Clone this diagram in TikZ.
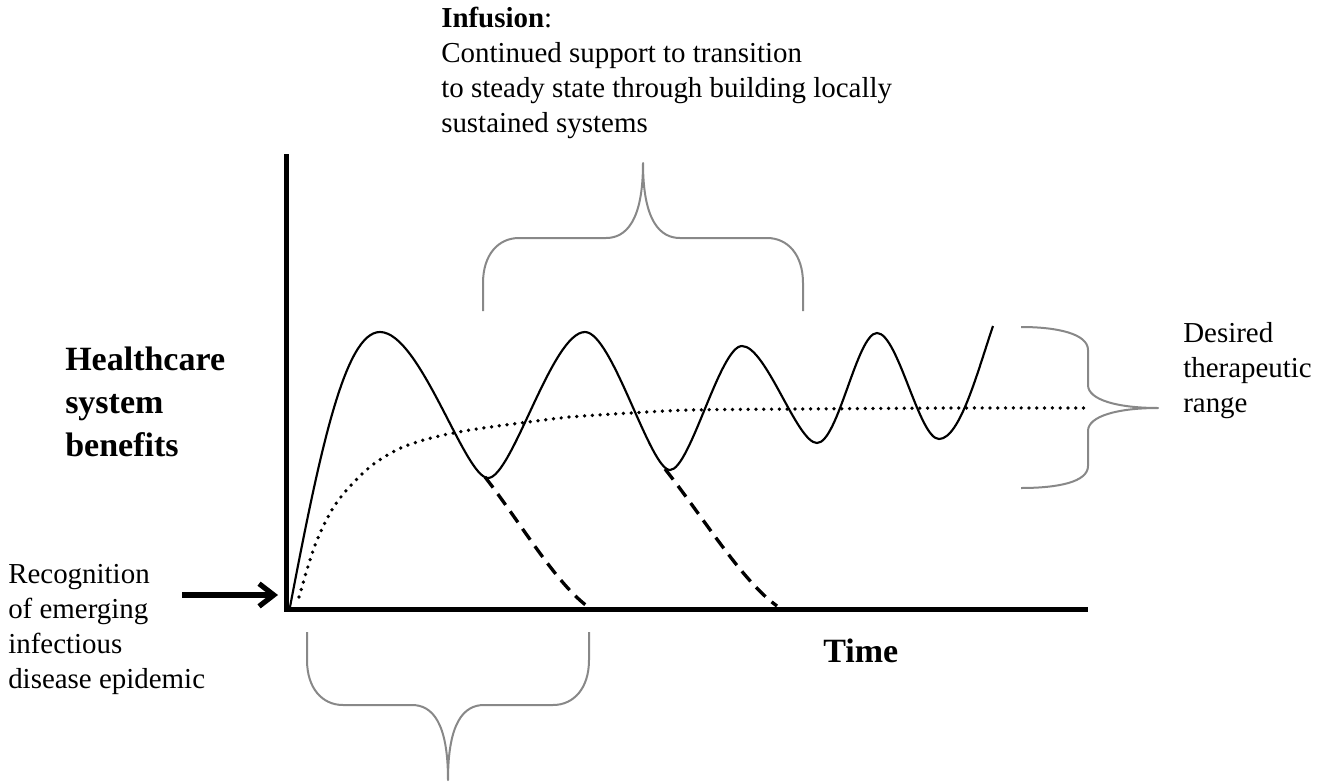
\documentclass[tikz,border=0pt]{standalone}
\usepackage{fontspec}
\setmainfont{Liberation Serif}
\usetikzlibrary{arrows.meta}
\definecolor{braceGray}{RGB}{136,136,136}
\newcommand\lblfont{\fontsize{21.7}{26.25}\selectfont}
\newcommand\headfont{\fontsize{25.5}{32.25}\selectfont\bfseries}
\begin{document}
\begin{tikzpicture}[x=0.75pt,y=-0.75pt,
  axis/.style={line width=3.75pt, line join=miter},
  wave/.style={line width=1.6pt, line join=round},
  drop/.style={line width=2.5pt, dash pattern=on 10pt off 6pt},
  trend/.style={line width=2.8pt, line cap=round, dash pattern=on 0pt off 5.85pt},
  bracket/.style={line width=1.5pt, draw=braceGray, line join=round},
  lbl/.style={anchor=base west, inner sep=0pt, font=\lblfont},
  headlbl/.style={anchor=base west, inner sep=0pt, font=\headfont},
  pointer/.style={line width=3.9pt, -{Straight Barb[length=11pt,width=17pt]}},
]
\useasboundingbox (0,0) rectangle (1335,782);

% axes
\coordinate (O) at (286.5,609.5);
\coordinate (ytop) at (286.5,154);
\coordinate (xend) at (1088,609.5);
\draw[axis] (ytop) -- (O) -- (xend);

% oscillating benefit curve
\draw[wave] (290,607)
  .. controls (320,450) and (345,332) .. (380,332)
  .. controls (420,332) and (465,478) .. (488,478)
  .. controls (512,478) and (552,332) .. (585,332)
  .. controls (612,332) and (650,470) .. (670,470)
  .. controls (690,470) and (720,346) .. (742,346)
  .. controls (766,346) and (797,443) .. (817,443)
  .. controls (838,443) and (857,333) .. (877,333)
  .. controls (898,333) and (919,439) .. (939,439)
  .. controls (960,439) and (978,370) .. (993,326);

% dashed drop-offs
\draw[drop] (485,477) .. controls (520,522) and (555,582) .. (587,606);
\draw[drop] (665,469) .. controls (703,517) and (742,581) .. (777,606);

% dotted trend
\draw[trend] plot[smooth] coordinates {(299,597) (310,560) (320,533) (335,505) (353,483) (375,463) (403,447) (435,437) (470,430) (520,423) (570,417) (630,413) (690,410) (800,409) (950,408) (1085,408)};

% braces
\draw[bracket] (483,311) -- (483,283) .. controls (483,255) and (498,238) .. (519,238) -- (606,238)
  .. controls (626,238) and (643,221) .. (643,163)
  .. controls (643,221) and (660,238) .. (680,238) -- (767,238)
  .. controls (788,238) and (803,255) .. (803,283) -- (803,311);
\draw[bracket] (307,632) -- (307,660) .. controls (307,688) and (322,705) .. (343,705) -- (412,705)
  .. controls (432,705) and (448,722) .. (448,780)
  .. controls (448,722) and (464,705) .. (484,705) -- (553,705)
  .. controls (574,705) and (589,688) .. (589,660) -- (589,632);
\draw[bracket] (1021,327) .. controls (1058,327) and (1088,334) .. (1088,350) -- (1088,385)
  .. controls (1088,400) and (1118,408) .. (1158,408)
  .. controls (1118,408) and (1088,416) .. (1088,431) -- (1088,466)
  .. controls (1088,482) and (1058,488) .. (1021,488);

% arrow to the origin
\coordinate (recogStart) at (182,595);
\coordinate (recogEnd) at (278,595);
\draw[pointer] (recogStart) -- (recogEnd);

% labels
\node[lbl] (infusion) at (441,27) {\begin{tabular}[t]{@{}l@{}}\textbf{Infusion}:\\Continued support to transition\\to steady state through building locally\\sustained systems\end{tabular}};
\node[headlbl] (benefits) at (65,370) {\begin{tabular}[t]{@{}l@{}}Healthcare\\system\\benefits\end{tabular}};
\node[lbl] (recog) at (8,583) {\begin{tabular}[t]{@{}l@{}}Recognition\\of emerging\\infectious\\disease epidemic\end{tabular}};
\node[lbl] (desired) at (1183,342) {\begin{tabular}[t]{@{}l@{}}Desired\\therapeutic\\range\end{tabular}};
\node[headlbl] (time) at (823,662) {Time};
\end{tikzpicture}
\end{document}
